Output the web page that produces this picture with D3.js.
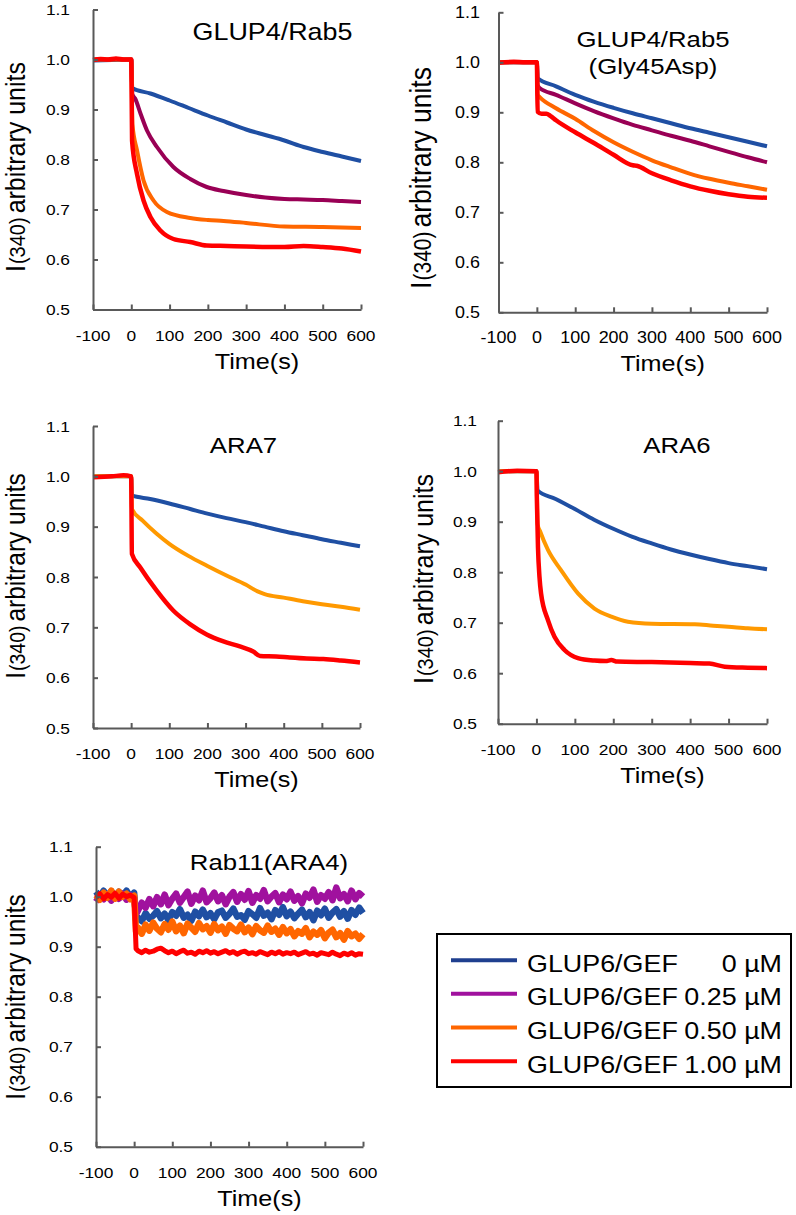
<!DOCTYPE html>
<html><head><meta charset="utf-8">
<script src="https://cdn.jsdelivr.net/npm/d3@7"></script>
<style>html,body{margin:0;padding:0;background:#fff;}svg{display:block;}</style>
</head><body>
<script>
// ---------- DATA ----------
const xTicks = [-100, 0, 100, 200, 300, 400, 500, 600];
const yTicks = [0.5, 0.6, 0.7, 0.8, 0.9, 1.0, 1.1];
const legendNames = ["GLUP6/GEF", "GLUP6/GEF", "GLUP6/GEF", "GLUP6/GEF"];
const legendDoses = ["0 µM", "0.25 µM", "0.50 µM", "1.00 µM"];

// Panel 1: GLUP4/Rab5  [time (s), I340]
const rab5Blue = [[-100,0.998],[-50,0.999],[0,1.0],[2,0.943],[50,0.932],[100,0.918],[150,0.903],[200,0.888],[250,0.874],[300,0.860],[350,0.849],[400,0.838],[450,0.825],[500,0.815],[550,0.806],[600,0.797]];
const rab5Purple = [[-100,1.0],[0,1.0],[3,0.93],[10,0.922],[25,0.89],[41,0.858],[67,0.825],[110,0.785],[154,0.761],[197,0.745],[241,0.737],[300,0.729],[350,0.724],[400,0.721],[450,0.720],[500,0.719],[550,0.717],[600,0.715]];
const rab5Orange = [[-100,1.0],[0,1.0],[3,0.87],[15,0.818],[32,0.758],[58,0.718],[93,0.695],[154,0.683],[200,0.679],[241,0.677],[300,0.673],[400,0.666],[500,0.665],[600,0.663]];
const rab5Red = [[-100,0.999],[-80,1.001],[-60,1.0],[-40,1.002],[-20,1.0],[0,1.0],[2,0.838],[15,0.771],[32,0.718],[50,0.685],[76,0.658],[110,0.641],[154,0.635],[197,0.628],[250,0.627],[300,0.626],[400,0.625],[450,0.627],[500,0.625],[550,0.622],[600,0.616]];

// Panel 2: GLUP4/Rab5 (Gly45Asp)
const g45dBlue = [[-100,1.0],[0,1.0],[2,0.968],[50,0.952],[100,0.935],[150,0.921],[200,0.909],[250,0.898],[300,0.888],[350,0.878],[400,0.868],[450,0.859],[500,0.850],[550,0.841],[600,0.832]];
const g45dPurple = [[-100,1.0],[0,1.0],[2,0.955],[8,0.948],[50,0.935],[100,0.918],[150,0.902],[200,0.888],[250,0.875],[300,0.864],[350,0.853],[400,0.843],[450,0.832],[500,0.821],[550,0.810],[600,0.800]];
const g45dOrange = [[-100,1.0],[0,1.0],[2,0.935],[8,0.930],[50,0.908],[100,0.887],[150,0.862],[200,0.840],[250,0.821],[300,0.804],[350,0.790],[400,0.777],[450,0.767],[500,0.759],[550,0.752],[600,0.745]];
const g45dRed = [[-100,0.999],[-60,1.001],[-30,1.0],[0,1.0],[2,0.901],[12,0.897],[25,0.897],[35,0.893],[50,0.884],[100,0.860],[150,0.838],[200,0.815],[250,0.794],[260,0.793],[300,0.778],[350,0.764],[400,0.752],[450,0.743],[500,0.736],[550,0.731],[600,0.729]];

// Panel 3: ARA7
const ara7Blue = [[-100,1.0],[0,1.0],[2,0.962],[50,0.955],[100,0.946],[155,0.935],[200,0.926],[250,0.917],[300,0.909],[350,0.900],[400,0.891],[450,0.883],[500,0.875],[550,0.868],[600,0.861]];
const ara7Orange = [[-100,1.0],[0,1.0],[2,0.935],[30,0.912],[67,0.886],[100,0.866],[150,0.842],[200,0.822],[250,0.803],[300,0.785],[330,0.772],[350,0.766],[400,0.759],[450,0.752],[500,0.746],[550,0.741],[600,0.735]];
const ara7Red = [[-100,0.998],[-50,1.0],[-20,1.002],[0,1.0],[2,0.846],[24,0.819],[67,0.773],[111,0.733],[155,0.706],[198,0.686],[242,0.672],[285,0.662],[320,0.652],[338,0.643],[380,0.642],[416,0.640],[460,0.638],[504,0.637],[550,0.634],[600,0.630]];

// Panel 4: ARA6
const ara6Blue = [[-100,1.0],[0,1.0],[3,0.962],[50,0.945],[100,0.925],[150,0.904],[200,0.886],[250,0.870],[300,0.857],[350,0.845],[400,0.835],[450,0.826],[500,0.818],[550,0.812],[600,0.806]];
const ara6Orange = [[-100,1.0],[0,1.0],[3,0.895],[10,0.880],[30,0.844],[64,0.804],[108,0.758],[151,0.728],[195,0.712],[238,0.702],[300,0.698],[412,0.697],[460,0.694],[499,0.692],[550,0.689],[600,0.687]];
const ara6Red = [[-100,0.998],[-50,1.001],[0,1.0],[1,0.95],[4,0.85],[8,0.79],[12,0.758],[30,0.705],[47,0.672],[73,0.646],[108,0.630],[151,0.625],[180,0.624],[195,0.626],[210,0.623],[300,0.622],[400,0.620],[450,0.619],[490,0.613],[550,0.611],[600,0.610]];

// Panel 5: Rab11(ARA4) (noisy traces)
const ara4Time = [-100,-90,-80,-70,-60,-50,-40,-30,-20,-10,0,5,
  10,20,30,40,50,60,70,80,90,100,110,120,130,140,150,160,170,180,190,200,
  210,220,230,240,250,260,270,280,290,300,310,320,330,340,350,360,370,380,390,400,
  410,420,430,440,450,460,470,480,490,500,510,520,530,540,550,560,570,580,590,600];
const ara4Blue = [1.010,0.999,1.012,1.000,1.011,0.998,1.010,1.002,1.012,0.999,1.008,0.953,
  0.958,0.951,0.967,0.956,0.962,0.971,0.957,0.966,0.953,0.969,
  0.962,0.975,0.958,0.964,0.952,0.970,0.961,0.974,0.959,0.967,
  0.955,0.969,0.972,0.958,0.966,0.976,0.960,0.963,0.954,0.971,
  0.965,0.958,0.977,0.962,0.968,0.955,0.973,0.964,0.979,0.961,
  0.970,0.957,0.966,0.974,0.959,0.969,0.953,0.972,0.963,0.976,
  0.958,0.968,0.975,0.960,0.971,0.956,0.973,0.964,0.978,0.967];
const ara4Purple = [0.990,1.002,0.995,1.005,0.992,1.004,0.996,1.006,0.994,1.003,0.998,0.965,
  0.972,0.988,0.978,0.995,0.981,0.999,0.985,1.004,0.983,0.996,
  1.006,0.988,0.999,1.010,0.986,1.002,0.993,1.012,0.989,0.997,
  1.008,0.991,1.003,0.985,1.000,1.009,0.990,1.005,0.994,1.011,
  0.988,1.003,0.996,1.013,0.991,1.000,1.007,0.989,1.004,0.995,
  1.010,0.992,1.001,0.987,1.006,0.998,1.014,0.990,1.003,0.996,
  1.009,0.993,1.018,0.997,1.005,0.991,1.012,0.995,1.007,1.000];
const ara4Orange = [1.003,0.994,1.008,0.998,1.012,0.996,1.010,1.000,1.006,0.995,1.002,0.930,
  0.938,0.926,0.944,0.932,0.948,0.936,0.929,0.945,0.934,0.950,
  0.931,0.942,0.927,0.946,0.938,0.930,0.947,0.935,0.941,0.928,
  0.945,0.933,0.940,0.926,0.943,0.936,0.931,0.944,0.929,0.938,
  0.925,0.941,0.933,0.928,0.942,0.930,0.936,0.924,0.939,0.927,
  0.935,0.921,0.931,0.926,0.937,0.919,0.930,0.924,0.933,0.917,
  0.928,0.934,0.919,0.927,0.914,0.931,0.921,0.926,0.916,0.925];
const ara4Red = [0.998,1.006,0.996,1.004,0.999,1.007,0.997,1.005,1.000,1.003,0.998,0.896,
  0.892,0.888,0.893,0.889,0.891,0.895,0.897,0.892,0.888,0.891,
  0.886,0.890,0.893,0.887,0.889,0.885,0.891,0.888,0.892,0.887,
  0.890,0.886,0.889,0.892,0.887,0.890,0.885,0.889,0.891,0.886,
  0.888,0.885,0.890,0.887,0.884,0.889,0.886,0.890,0.885,0.888,
  0.886,0.889,0.884,0.887,0.890,0.885,0.887,0.883,0.888,0.886,
  0.884,0.889,0.885,0.882,0.887,0.884,0.888,0.883,0.886,0.885];

// ---------- STYLE / LAYOUT ----------
const FONT = "'Liberation Sans', Arial, Helvetica, sans-serif";
const SX = 1.12;
const C = {blue:"#1F4FA3", maroon:"#990055", magenta:"#A0119E", orange:"#FF6600", amber:"#FF9900", red:"#FF0000"};
const legendColors = ["#1F3F8F", "#A0119E", "#FF6600", "#FF0000"];

const zipT = (ts, vs) => ts.map((t, i) => [t, vs[i]]);

const panels = [
  {x0:93, x1:361, yt:9.5, yb:309.5, title:["GLUP4/Rab5"], tx:272.5, ty:[40], ts:24,
   lx:25, ly:167, ls:25, lsub:20, tick:15.5, yoff:23, curve:true,
   series:[[rab5Blue,C.blue,4],[rab5Purple,C.maroon,4],[rab5Orange,C.orange,4],[rab5Red,C.red,4.5]]},
  {x0:498.5, x1:767, yt:12.3, yb:312.3, title:["GLUP4/Rab5","(Gly45Asp)"], tx:653, ty:[46.7,74], ts:23,
   lx:431, ly:178, ls:26.5, lsub:21, tick:16, yoff:18.5, curve:true,
   series:[[g45dBlue,C.blue,4],[g45dPurple,C.maroon,4],[g45dOrange,C.orange,4],[g45dRed,C.red,4.5]]},
  {x0:93, x1:360, yt:426, yb:728, title:["ARA7"], tx:243.5, ty:[452.7], ts:23,
   lx:25, ly:576, ls:24.5, lsub:19.5, tick:15.5, yoff:23, curve:true,
   series:[[ara7Blue,C.blue,4],[ara7Orange,C.amber,4],[ara7Red,C.red,4.5]]},
  {x0:498, x1:767, yt:420.7, yb:723.7, title:["ARA6"], tx:677, ty:[452.7], ts:23,
   lx:433, ly:579, ls:25, lsub:20, tick:15.5, yoff:21, curve:true,
   series:[[ara6Blue,C.blue,4],[ara6Orange,C.amber,4],[ara6Red,C.red,4.5]]},
  {x0:96, x1:363, yt:846.7, yb:1146.7, title:["Rab11(ARA4)"], tx:269, ty:[870], ts:23,
   lx:25, ly:997, ls:24.5, lsub:19.5, tick:15.5, yoff:23, curve:false,
   series:[[zipT(ara4Time,ara4Blue),C.blue,6.5],[zipT(ara4Time,ara4Purple),C.magenta,6.5],[zipT(ara4Time,ara4Orange),C.orange,6.5],[zipT(ara4Time,ara4Red),C.red,5]]}
];

const svg = d3.select("body").append("svg").attr("width", 796).attr("height", 1215)
  .attr("font-family", FONT);

function stext(parent, x, y, str, size, anchor) {
  const g = parent.append("g").attr("transform", `translate(${x},${y}) scale(${SX},1)`);
  return g.append("text").attr("text-anchor", anchor).attr("font-size", size)
    .attr("fill", "#000").text(str);
}

panels.forEach(p => {
  const x = d3.scaleLinear().domain([-100, 600]).range([p.x0, p.x1]);
  const y = d3.scaleLinear().domain([0.5, 1.1]).range([p.yb, p.yt]);
  const g = svg.append("g");

  // series
  const line = d3.line().x(d => x(d[0])).y(d => y(d[1]))
    .curve(p.curve ? d3.curveMonotoneX : d3.curveLinear);
  p.series.forEach(([data, col, sw]) => {
    g.append("path").datum(data).attr("d", line).attr("fill", "none")
      .attr("stroke", col).attr("stroke-width", sw)
      .attr("stroke-linejoin", "round").attr("stroke-linecap", "butt");
  });

  // axes
  const ax = g.append("g").attr("transform", `translate(0,${p.yb})`)
    .call(d3.axisBottom(x).tickValues(xTicks).tickSizeInner(-5).tickSizeOuter(0).tickFormat(""));
  const ay = g.append("g").attr("transform", `translate(${p.x0},0)`)
    .call(d3.axisLeft(y).tickValues(yTicks).tickSizeInner(-5).tickSizeOuter(0).tickFormat(""));
  [ax, ay].forEach(a => {
    a.selectAll("path,line").attr("stroke", "#595959").attr("stroke-width", 2);
  });

  // tick labels
  xTicks.forEach(t => stext(g, x(t), p.yb + 31, String(t), p.tick, "middle"));
  yTicks.forEach(v => stext(g, p.x0 - p.yoff, y(v) + 5.5, d3.format(".1f")(v), p.tick, "end"));

  // axis title
  stext(g, (p.x0 + p.x1) / 2 + 30, p.yb + 59, "Time(s)", 22.5, "middle");

  // y label
  const yl = g.append("g").attr("transform", `translate(${p.lx},${p.ly}) scale(${SX},1) rotate(-90)`)
    .append("text").attr("text-anchor", "middle").attr("font-size", p.ls).attr("fill", "#000");
  yl.append("tspan").text("I");
  yl.append("tspan").attr("font-size", p.lsub).attr("dx", 1).text("(340)");
  yl.append("tspan").attr("dx", 4).text("arbitrary units");

  // panel title
  p.title.forEach((s, i) => stext(g, p.tx, p.ty[i], s, p.ts, "middle"));
});

// ---------- LEGEND ----------
const lg = svg.append("g");
lg.append("rect").attr("x", 437).attr("y", 934).attr("width", 354).attr("height", 153)
  .attr("fill", "#fff").attr("stroke", "#000").attr("stroke-width", 2);
const rowY = d3.scaleLinear().domain([0, 3]).range([971.7, 1072.7]);
legendDoses.forEach((dose, i) => {
  const by = rowY(i);
  lg.append("line").attr("x1", 451).attr("x2", 517).attr("y1", by - 11.5).attr("y2", by - 11.5)
    .attr("stroke", legendColors[i]).attr("stroke-width", 4);
  stext(lg, 527, by, legendNames[i], 24, "start");
  stext(lg, 782, by, dose, 24, "end");
});
</script>
</body></html>
